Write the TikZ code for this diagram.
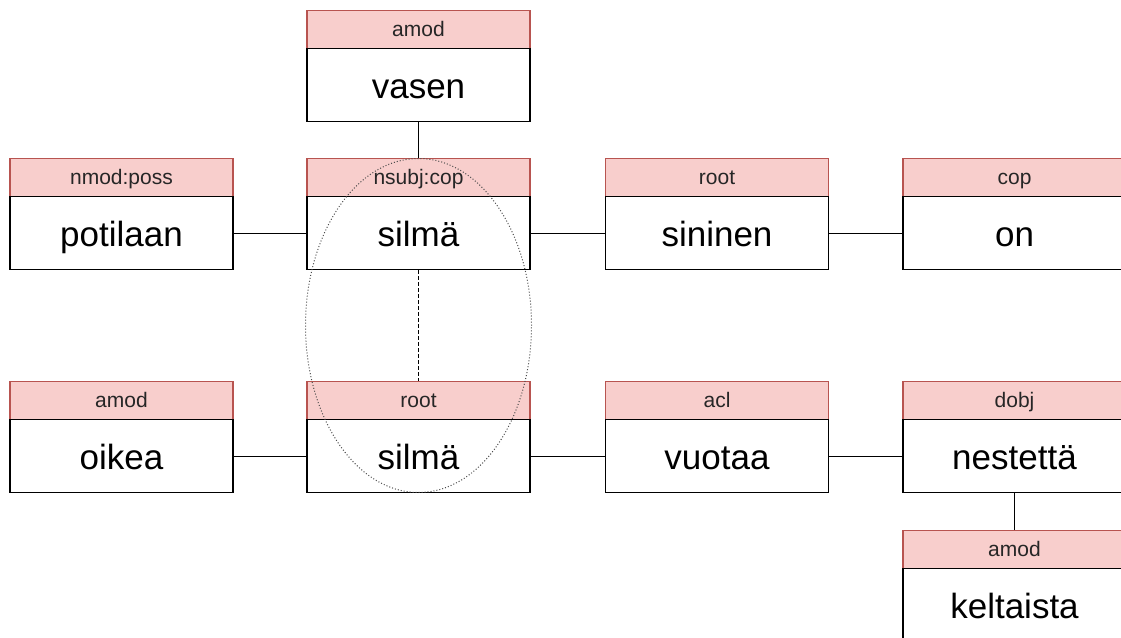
\documentclass[tikz,border=0pt]{standalone}
\usepackage{fontspec}
\setmainfont{Liberation Sans}
\usetikzlibrary{shapes.geometric}
\definecolor{hdrfill}{HTML}{F8CECC}
\definecolor{hdrline}{HTML}{B85450}
\tikzset{
  hdr/.style={draw=hdrline, fill=hdrfill, line width=1.2pt, minimum width=223pt, minimum height=38pt,
    inner sep=0pt, text=black!85, font=\fontsize{21}{24}\selectfont, anchor=north,
    text height=15pt, text depth=1pt},
  body/.style={draw=black, fill=white, line width=1.3pt, minimum width=223pt, minimum height=73pt,
    inner sep=0pt, font=\fontsize{35}{40}\selectfont, anchor=north,
    text height=28pt, text depth=0.5pt},
  link/.style={draw=black, line width=1.2pt},
  dlink/.style={draw=black, line width=1.2pt, dash pattern=on 4pt off 2pt},
  grp/.style={ellipse, draw=black!70, line width=1pt, dash pattern=on 1pt off 2pt,
    minimum width=226pt, minimum height=334pt, inner sep=0pt}
}
\newcommand\depbox[5]{%
  \node[hdr] (#1h) at (#2,-#3) {#4};
  \node[body] (#1b) at (#2,-#3-38) {#5};
}
\begin{document}
\begin{tikzpicture}[x=1pt,y=1pt]
\useasboundingbox (0,0) rectangle (1121,-637);
\clip (0,0) rectangle (1121,-637);
\depbox{vas}{418.5}{10}{amod}{vasen}
\depbox{pot}{121.5}{158}{nmod:poss}{potilaan}
\depbox{sil}{418.5}{158}{nsubj:cop}{silmä}
\depbox{sin}{717}{158}{root}{sininen}
\depbox{on}{1014.5}{158}{cop}{on}
\depbox{oik}{121.5}{381}{amod}{oikea}
\depbox{sit}{418.5}{381}{root}{silmä}
\depbox{vuo}{717}{381}{acl}{vuotaa}
\depbox{nes}{1014.5}{381}{dobj}{nestettä}
\depbox{kel}{1014.5}{530}{amod}{keltaista}
\draw[link] (vasb.south) -- (silh.north);
\draw[link] (potb.east) -- (silb.west);
\draw[link] (silb.east) -- (sinb.west);
\draw[link] (sinb.east) -- (onb.west);
\draw[dlink] (silb.south) -- (sith.north);
\draw[link] (oikb.east) -- (sitb.west);
\draw[link] (sitb.east) -- (vuob.west);
\draw[link] (vuob.east) -- (nesb.west);
\draw[link] (nesb.south) -- (kelh.north);
\node[grp] (group) at (418.5,-325.5) {};
\end{tikzpicture}
\end{document}
